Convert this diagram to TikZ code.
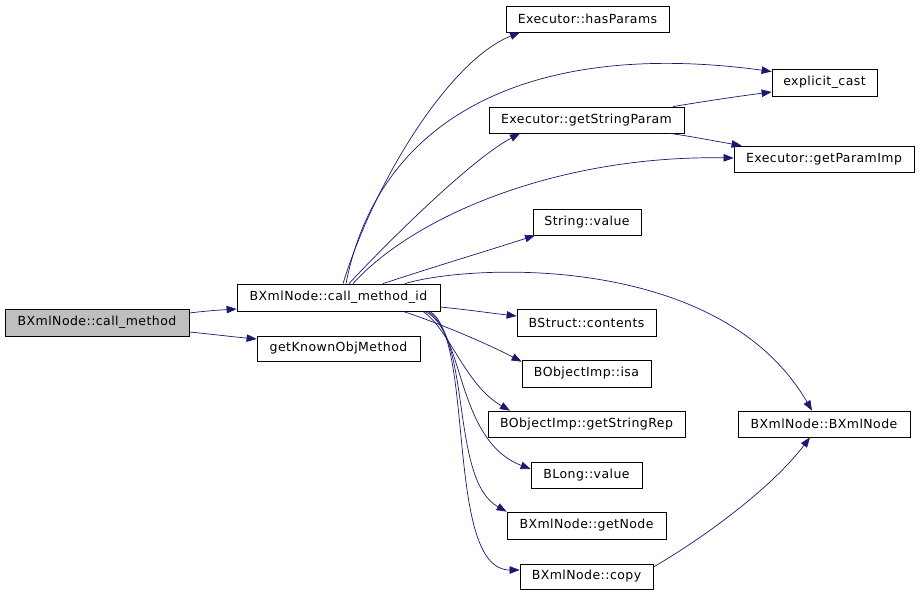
\documentclass[tikz,border=0pt]{standalone}
\usepackage{fontspec}
\setmainfont{DejaVu Sans}[LetterSpace=3.5]
\usetikzlibrary{arrows.meta}
\definecolor{edgec}{HTML}{191970}
\definecolor{greyfill}{HTML}{BFBFBF}
\tikzset{
  fn/.style={draw=black, fill=white, line width=0.8pt, inner sep=0pt, minimum height=26pt, font=\fontsize{12.5}{14}\selectfont},
  root/.style={fn, fill=greyfill},
  edge/.style={draw=edgec, line width=0.7pt, -{Triangle[length=10pt,width=7.5pt]}}
}
\begin{document}
\begin{tikzpicture}[x=1pt,y=-1pt]
\useasboundingbox[fill=white] (0,0) rectangle (920,595);
% nodes
\node[root, minimum width=184pt, minimum height=27pt] (cm) at (97,322.5) {BXmlNode::call\_method};
\node[fn, minimum width=203pt, minimum height=27pt] (cmi) at (338.5,297.5) {BXmlNode::call\_method\_id};
\node[fn, minimum width=163pt, minimum height=25pt] (gko) at (338.5,348.5) {getKnownObjMethod};
\node[fn, minimum width=163pt] (hp) at (587.5,19) {Executor::hasParams};
\node[fn, minimum width=105pt, minimum height=27pt] (ec) at (824.5,82.5) {explicit\_cast};
\node[fn, minimum width=195pt] (gsp) at (586.5,120) {Executor::getStringParam};
\node[fn, minimum width=180pt] (gpi) at (824,159) {Executor::getParamImp};
\node[fn, minimum width=108pt] (sv) at (587,222) {String::value};
\node[fn, minimum width=139pt, minimum height=27pt] (bsc) at (586.5,322.5) {BStruct::contents};
\node[fn, minimum width=129pt, minimum height=27pt] (isa) at (586.5,373.5) {BObjectImp::isa};
\node[fn, minimum width=197pt] (gsr) at (586.5,424) {BObjectImp::getStringRep};
\node[fn, minimum width=172pt] (bxn) at (824,424) {BXmlNode::BXmlNode};
\node[fn, minimum width=111pt] (bl) at (586.5,475) {BLong::value};
\node[fn, minimum width=159pt, minimum height=27pt] (gn) at (586.5,525.5) {BXmlNode::getNode};
\node[fn, minimum width=133pt, minimum height=25pt] (cp) at (586.5,576.5) {BXmlNode::copy};
% edges
\draw[edge] ([yshift=9.5pt]cm.east) .. controls (205,311) and (220,310) .. ([yshift=-11.5pt]cmi.west);
\draw[edge] ([yshift=-9.5pt]cm.east) .. controls (210,334) and (235,337) .. ([yshift=9.5pt]gko.west);
\draw[edge] ([xshift=4.5pt]cmi.north) .. controls (375,180) and (450,60) .. ([xshift=-67.5pt]hp.south);
\draw[edge] ([xshift=7.5pt]cmi.north) .. controls (380,110) and (540,40) .. ([yshift=11pt]ec.west);
\draw[edge] ([xshift=10.5pt]cmi.north) .. controls (385,245) and (470,160) .. ([xshift=-66.5pt]gsp.south);
\draw[edge] ([xshift=14.5pt]cmi.north) .. controls (415,215) and (560,155) .. ([yshift=1pt]gpi.west);
\draw[edge] ([xshift=44.5pt]cmi.north) .. controls (430,268) and (490,250) .. ([xshift=-52pt]sv.south);
\draw[edge] ([xshift=66.5pt]cmi.north) .. controls (470,264) and (720,252) .. ([xshift=-12pt]bxn.north);
\draw[edge] ([yshift=-9.5pt]cmi.east) .. controls (470,310) and (490,313) .. ([yshift=6.5pt]bsc.west);
\draw[edge] ([xshift=64.5pt]cmi.south) .. controls (430,320) and (480,340) .. ([yshift=-2pt]isa.north west);
\draw[edge] ([xshift=84.5pt]cmi.south) .. controls (450,330) and (465,385) .. ([xshift=-76.5pt]gsr.north);
\draw[edge] ([xshift=86.5pt]cmi.south) .. controls (465,330) and (455,440) .. ([yshift=6pt]bl.west);
\draw[edge] ([xshift=89.5pt]cmi.south) .. controls (472,340) and (450,480) .. (gn.north west);
\draw[edge] ([xshift=91.5pt]cmi.south) .. controls (475,340) and (445,570) .. ([yshift=6.5pt]cp.west);
\draw[edge] ([yshift=9.5pt]cp.east) .. controls (700,540) and (770,490) .. ([xshift=-14pt]bxn.south);
\draw[edge] ([xshift=86.5pt]gsp.north) .. controls (700,102) and (740,96) .. ([yshift=-9.5pt]ec.west);
\draw[edge] ([xshift=83.5pt]gsp.south) .. controls (695,137) and (720,142) .. ([xshift=8pt]gpi.north west);
\end{tikzpicture}
\end{document}
